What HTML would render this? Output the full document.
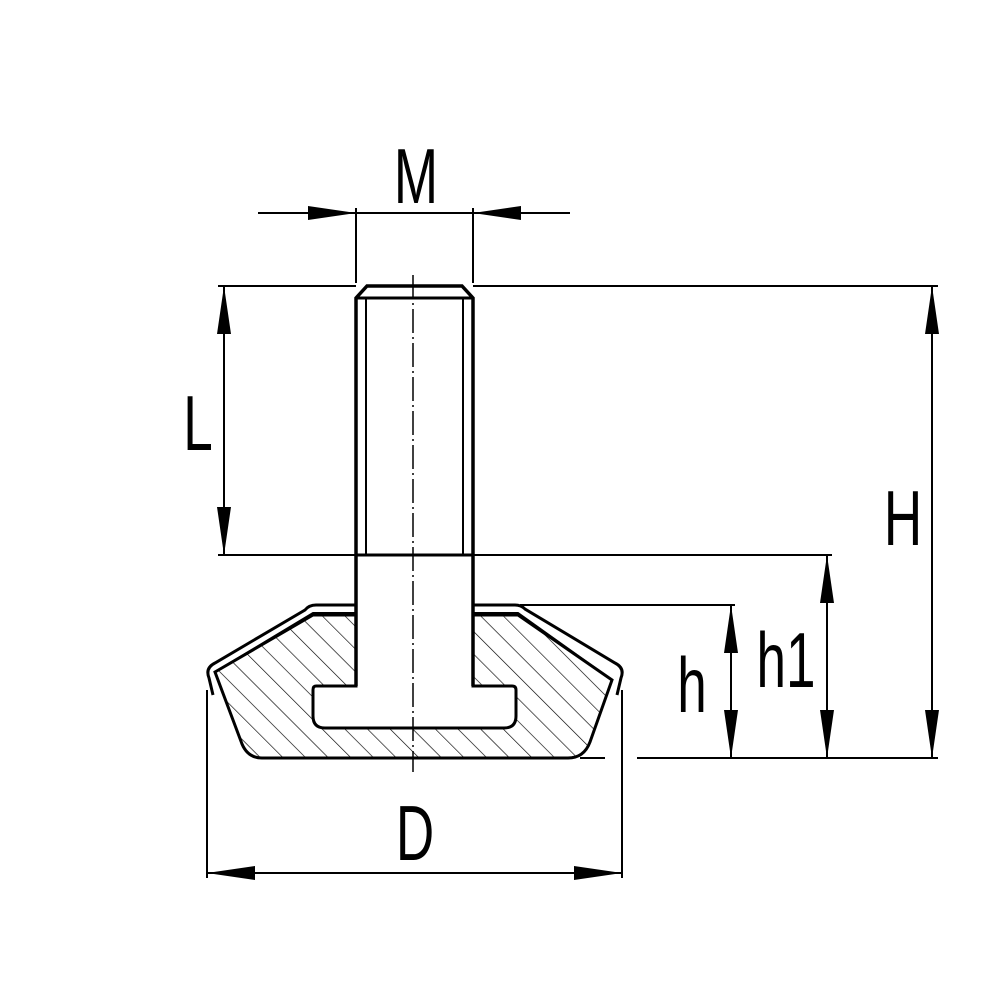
<!DOCTYPE html>
<html><head><style>html,body{margin:0;padding:0;background:#fff}</style></head><body>
<svg width="1000" height="1000" viewBox="0 0 1000 1000" xmlns="http://www.w3.org/2000/svg">
<defs>
<pattern id="hat" patternUnits="userSpaceOnUse" width="16" height="16" patternTransform="rotate(-45)">
<line x1="0" y1="0" x2="0" y2="16" stroke="#000" stroke-width="1.3"/>
</pattern>
</defs>
<g fill="none" stroke="#000">
<path d="M215,672 L313,615 L356,615 L356,686 L316,686 Q313,686 313,690 L313,716 Q313,728 325,728 L504,728 Q516,728 516,716 L516,690 Q516,686 512,686 L473,686 L473,615 L518,615 L612,680 L590,742 Q584,758 568,758 L262,758 Q248,758 242,744 Z" fill="url(#hat)" stroke-width="3"/>
<path d="M213,695 L209,678 Q205,668 215,663 L305,610 Q309,605 316,605 L356,605" stroke-width="3"/>
<path d="M473,605 L515,605 Q521,605 525,609 L615,663 Q625,668 621,678 L617,695" stroke-width="3"/>
<path d="M215,672 L313,613 L356,613 M473,613 L518,613 L612,680" stroke-width="2"/>
<path d="M356,686 L356,298 L367,286 L462,286 L473,298 L473,686" stroke-width="3.5"/>
<line x1="356" y1="298" x2="473" y2="298" stroke-width="3"/>
<line x1="366" y1="298" x2="366" y2="555" stroke-width="2"/>
<line x1="463" y1="298" x2="463" y2="555" stroke-width="2"/>
<line x1="356" y1="555" x2="473" y2="555" stroke-width="3"/>
<line x1="413" y1="275" x2="413" y2="772" stroke-width="1.5" stroke-dasharray="24,4,2,4"/>
<g stroke-width="2">
<line x1="258" y1="213" x2="570" y2="213"/>
<line x1="356" y1="208" x2="356" y2="283"/>
<line x1="473" y1="208" x2="473" y2="283"/>
<line x1="218" y1="286" x2="356" y2="286"/>
<line x1="473" y1="286" x2="938" y2="286"/>
<line x1="218" y1="555" x2="356" y2="555"/>
<line x1="473" y1="555" x2="832" y2="555"/>
<line x1="520" y1="605" x2="735" y2="605"/>
<line x1="580" y1="758" x2="605" y2="758"/>
<line x1="637" y1="758" x2="938" y2="758"/>
<line x1="224" y1="286" x2="224" y2="555"/>
<line x1="932" y1="286" x2="932" y2="758"/>
<line x1="827" y1="555" x2="827" y2="758"/>
<line x1="731" y1="605" x2="731" y2="758"/>
<line x1="207" y1="690" x2="207" y2="878"/>
<line x1="622" y1="690" x2="622" y2="878"/>
<line x1="207" y1="873" x2="622" y2="873"/>
</g>
</g>
<g fill="#000">
<path d="M356,213 L308,206 L308,220 Z"/>
<path d="M473,213 L521,206 L521,220 Z"/>
<path d="M224,286 L217,334 L231,334 Z"/>
<path d="M224,555 L217,507 L231,507 Z"/>
<path d="M932,286 L925,334 L939,334 Z"/>
<path d="M932,758 L925,710 L939,710 Z"/>
<path d="M827,555 L820,603 L834,603 Z"/>
<path d="M827,758 L820,710 L834,710 Z"/>
<path d="M731,605 L724,653 L738,653 Z"/>
<path d="M731,758 L724,710 L738,710 Z"/>
<path d="M207,873 L255,866 L255,880 Z"/>
<path d="M622,873 L574,866 L574,880 Z"/>
</g>
<g font-family="Liberation Sans, sans-serif" font-size="78" fill="#000" text-anchor="middle">
<text transform="translate(416,203) scale(0.68,1)">M</text>
<text transform="translate(198,450) scale(0.68,1)">L</text>
<text transform="translate(903,545) scale(0.68,1)">H</text>
<text transform="translate(415,860) scale(0.68,1)">D</text>
<text transform="translate(692,712) scale(0.68,1)">h</text>
<text transform="translate(786,687) scale(0.68,1)">h1</text>
</g>
</svg>
</body></html>
